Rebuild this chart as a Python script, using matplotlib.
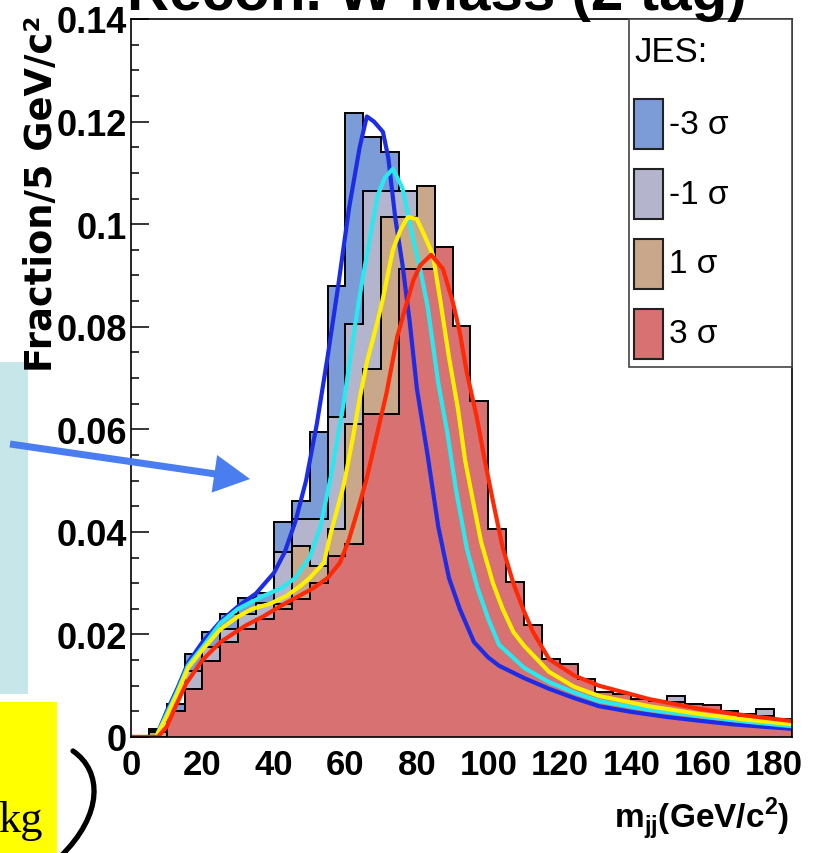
import numpy as np
import matplotlib
matplotlib.use("Agg")
import matplotlib.pyplot as plt
from matplotlib.patches import Rectangle, PathPatch
from matplotlib.path import Path
from matplotlib.ticker import MultipleLocator

# 5 GeV bins, 0..185
mass_edges = np.arange(0, 190, 5)

# histogram fractions per JES shift
frac_m3 = [0, 0.0015, 0.0064, 0.0162, 0.0204, 0.0240, 0.0271, 0.0280, 0.0419, 0.0460,
           0.0595, 0.0880, 0.1217, 0.1170, 0.1140, 0.0720, 0.0460, 0.0300, 0.0220, 0.0170,
           0.0140, 0.0120, 0.0100, 0.0090, 0.0078, 0.0068, 0.0060, 0.0054, 0.0049, 0.0044,
           0.0040, 0.0036, 0.0032, 0.0029, 0.0026, 0.0023, 0.0020]
frac_m1 = [0, 0.0012, 0.0051, 0.0129, 0.0175, 0.0210, 0.0240, 0.0262, 0.0360, 0.0425,
           0.0425, 0.0624, 0.0805, 0.1065, 0.1065, 0.1065, 0.0700, 0.0500, 0.0340, 0.0250,
           0.0190, 0.0150, 0.0125, 0.0105, 0.0092, 0.0080, 0.0072, 0.0066, 0.0062, 0.0060,
           0.0080, 0.0052, 0.0050, 0.0045, 0.0038, 0.0055, 0.0030]
frac_p1 = [0, 0.0010, 0.0045, 0.0094, 0.0149, 0.0185, 0.0211, 0.0230, 0.0260, 0.0373,
           0.0334, 0.0406, 0.0610, 0.0718, 0.1014, 0.1014, 0.1075, 0.0850, 0.0600, 0.0400,
           0.0290, 0.0220, 0.0170, 0.0135, 0.0115, 0.0100, 0.0085, 0.0078, 0.0070, 0.0066,
           0.0063, 0.0060, 0.0056, 0.0050, 0.0044, 0.0040, 0.0034]
frac_p3 = [0, 0, 0.0050, 0.0094, 0.0149, 0.0185, 0.0211, 0.0230, 0.0250, 0.0270,
           0.0300, 0.0353, 0.0376, 0.0630, 0.0630, 0.0913, 0.0913, 0.0955, 0.0802, 0.0656,
           0.0406, 0.0302, 0.0218, 0.0152, 0.0142, 0.0113, 0.0088, 0.0084, 0.0074, 0.0071,
           0.0068, 0.0064, 0.0062, 0.0051, 0.0041, 0.0039, 0.0035]

# fitted templates
fit_m3_x = [0, 7, 10, 13, 16, 20, 25, 30, 35, 40, 43, 46, 49, 52, 55, 58, 61, 64, 66, 68,
            70.5, 72, 74, 76, 78, 80, 83, 86, 89, 92, 96, 100, 103, 110, 117, 124, 131, 140,
            150, 160, 168, 177, 185]
fit_m3_y = [0, 0, 0.005, 0.0095, 0.0145, 0.0185, 0.0225, 0.0255, 0.028, 0.032, 0.036, 0.042,
            0.050, 0.061, 0.074, 0.088, 0.103, 0.115, 0.121, 0.120, 0.118, 0.113, 0.101, 0.092,
            0.081, 0.068, 0.055, 0.041, 0.031, 0.025, 0.0185, 0.0155, 0.0139, 0.0115, 0.0094,
            0.0076, 0.006, 0.0049, 0.0039, 0.0031, 0.0025, 0.002, 0.0016]
fit_m1_x = [0, 7, 10, 13, 16, 20, 25, 30, 37, 42, 46, 50, 53, 56, 59.5, 62, 64, 66, 69, 71,
            73.3, 76, 79, 81, 83, 86, 88.5, 91, 94, 97, 100, 103, 110, 117, 124, 131, 145, 159,
            172, 185]
fit_m1_y = [0, 0, 0.0045, 0.009, 0.014, 0.0175, 0.0222, 0.025, 0.0275, 0.029, 0.031, 0.035,
            0.041, 0.051, 0.065, 0.077, 0.086, 0.094, 0.1055, 0.109, 0.1108, 0.107, 0.097,
            0.091, 0.084, 0.069, 0.0595, 0.048, 0.0367, 0.029, 0.023, 0.018, 0.0135, 0.0107,
            0.0087, 0.007, 0.0053, 0.0041, 0.003, 0.0021]
fit_p1_x = [0, 7, 10, 13, 16, 20, 25, 30, 34, 39, 43.5, 47.5, 50, 54, 56, 59.5, 62, 64, 66, 69,
            70.5, 73.3, 75.5, 77.5, 80, 82, 84.5, 86.5, 89, 91.5, 93.5, 96, 98, 101.3, 104, 107,
            110, 117, 124, 131, 145, 159, 172, 185]
fit_p1_y = [0, 0, 0.004, 0.0085, 0.0135, 0.017, 0.021, 0.0235, 0.025, 0.026, 0.0275, 0.0295,
            0.031, 0.034, 0.040, 0.049, 0.058, 0.066, 0.073, 0.081, 0.0855, 0.095, 0.099,
            0.1014, 0.101, 0.098, 0.094, 0.0854, 0.074, 0.064, 0.054, 0.045, 0.038, 0.030,
            0.025, 0.0205, 0.0178, 0.0127, 0.0098, 0.008, 0.006, 0.0045, 0.0034, 0.0025]
fit_p3_x = [0, 7.5, 10, 12.5, 15.5, 20, 25, 32, 37, 42, 47, 51, 55, 58.5, 61, 64, 66, 68.5,
            71.5, 74.5, 76.5, 79, 81, 84, 87.3, 90, 92, 94, 96.7, 99, 101.3, 104, 107, 110,
            112.5, 117, 124, 131, 145, 159, 172, 185]
fit_p3_y = [0, 0, 0.002, 0.006, 0.0105, 0.015, 0.0185, 0.0217, 0.0235, 0.0256, 0.0275, 0.029,
            0.031, 0.034, 0.0385, 0.0455, 0.0505, 0.058, 0.067, 0.078, 0.083, 0.089, 0.092,
            0.094, 0.0913, 0.085, 0.079, 0.071, 0.0626, 0.054, 0.046, 0.037, 0.030, 0.0245,
            0.0205, 0.0152, 0.012, 0.010, 0.0074, 0.0055, 0.0042, 0.0031]

jes_labels = ["-3 σ", "-1 σ", "1 σ", "3 σ"]
x_ticks = [0, 20, 40, 60, 80, 100, 120, 140, 160, 180]
y_ticks = [0, 0.02, 0.04, 0.06, 0.08, 0.10, 0.12, 0.14]
y_tick_labels = ["0", "0.02", "0.04", "0.06", "0.08", "0.1", "0.12", "0.14"]

hist_colors = ["#7c9cd7", "#b4b4cd", "#c9a78a", "#d87171"]
fit_colors = ["#1d2de6", "#2ae8ef", "#fff000", "#ff2a05"]

W, H = 817, 854
sans = "Liberation Sans"
plt.rcParams["mathtext.fontset"] = "custom"
plt.rcParams["mathtext.bf"] = "Liberation Sans:bold"
plt.rcParams["mathtext.rm"] = "Liberation Sans"

fig = plt.figure(figsize=(W / 100, H / 100), dpi=100)
ax = fig.add_axes([131 / W, 1 - 738 / H, 661 / W, 718 / H])

for vals, col in zip([frac_m3, frac_m1, frac_p1, frac_p3], hist_colors):
    ax.stairs(vals, mass_edges, fill=True, facecolor=col, edgecolor="none", linewidth=0)
    ax.stairs(vals, mass_edges, color="black", linewidth=1.4)

fits = [(fit_m3_x, fit_m3_y), (fit_m1_x, fit_m1_y), (fit_p1_x, fit_p1_y), (fit_p3_x, fit_p3_y)]
for (fx, fy), col in zip(fits, fit_colors):
    ax.plot(fx, fy, color=col, linewidth=3, solid_joinstyle="round")

ax.set_xlim(0, 185)
ax.set_ylim(0, 0.14)
ax.set_xticks(x_ticks)
ax.set_yticks(y_ticks)
ax.set_yticklabels(y_tick_labels)
ax.yaxis.set_minor_locator(MultipleLocator(0.005))
ax.tick_params(axis="y", which="major", direction="in", length=13, width=1.1, pad=3, labelsize=26)
ax.tick_params(axis="y", which="minor", direction="in", length=6, width=1.1)
ax.tick_params(axis="x", which="both", length=0, pad=8, labelsize=25)
for lab in ax.get_xticklabels() + ax.get_yticklabels():
    lab.set_family(sans)
    lab.set_fontweight("bold")
for sp in ax.spines.values():
    sp.set_linewidth(1.2)

fig.text(437 / W, 1 - 10 / H, "Recon. W Mass (2 tag)", ha="center", va="baseline",
         fontsize=42, fontweight="bold", family=sans)
fig.text(42 / W, 1 - 15 / H, "Fraction/5 GeV/c²", rotation=90, ha="center", va="top",
         fontsize=26.5, fontweight="bold", family="DejaVu Sans")
fig.text(789 / W, 1 - 827 / H, r"m$_{\mathbf{jj}}$(GeV/c$^{\mathbf{2}}$)", ha="right",
         va="baseline", fontsize=24, fontweight="bold", family=sans)

# overlay in pixel coordinates: legend and slide pieces
ov = fig.add_axes([0, 0, 1, 1])
ov.set_xlim(0, W)
ov.set_ylim(H, 0)
ov.axis("off")
ov.patch.set_alpha(0)

ov.add_patch(Rectangle((629, 20), 163, 348, facecolor="white", edgecolor="#444444", linewidth=1.2))
ov.text(634, 53, "JES:", va="center", ha="left", fontsize=25, family=sans)
for i, (lab, col) in enumerate(zip(jes_labels, hist_colors)):
    y0 = 100 + 70 * i
    ov.add_patch(Rectangle((634, y0), 29, 50, facecolor=col, edgecolor="#222222", linewidth=1.5))
    ov.text(669, y0 + 25, lab, va="center", ha="left", fontsize=24, family=sans)

ov.add_patch(Rectangle((0, 363), 28, 332, facecolor="#c6e6ea", edgecolor="none"))
ov.add_patch(Rectangle((0, 703), 57, 151, facecolor="#ffff00", edgecolor="none"))
ov.text(43, 832, "kg", ha="right", va="baseline", fontsize=32, family="Liberation Serif")
ov.arrow(10, 445, 240, 35, width=7, head_width=38, head_length=36,
         length_includes_head=True, facecolor="#4a7ef0", edgecolor="none")
brace = Path([(73, 752), (102, 772), (104, 815), (60, 858)],
             [Path.MOVETO, Path.CURVE4, Path.CURVE4, Path.CURVE4])
ov.add_patch(PathPatch(brace, facecolor="none", edgecolor="black", linewidth=3.8, capstyle="round"))

fig.savefig("out.png", dpi=100)
